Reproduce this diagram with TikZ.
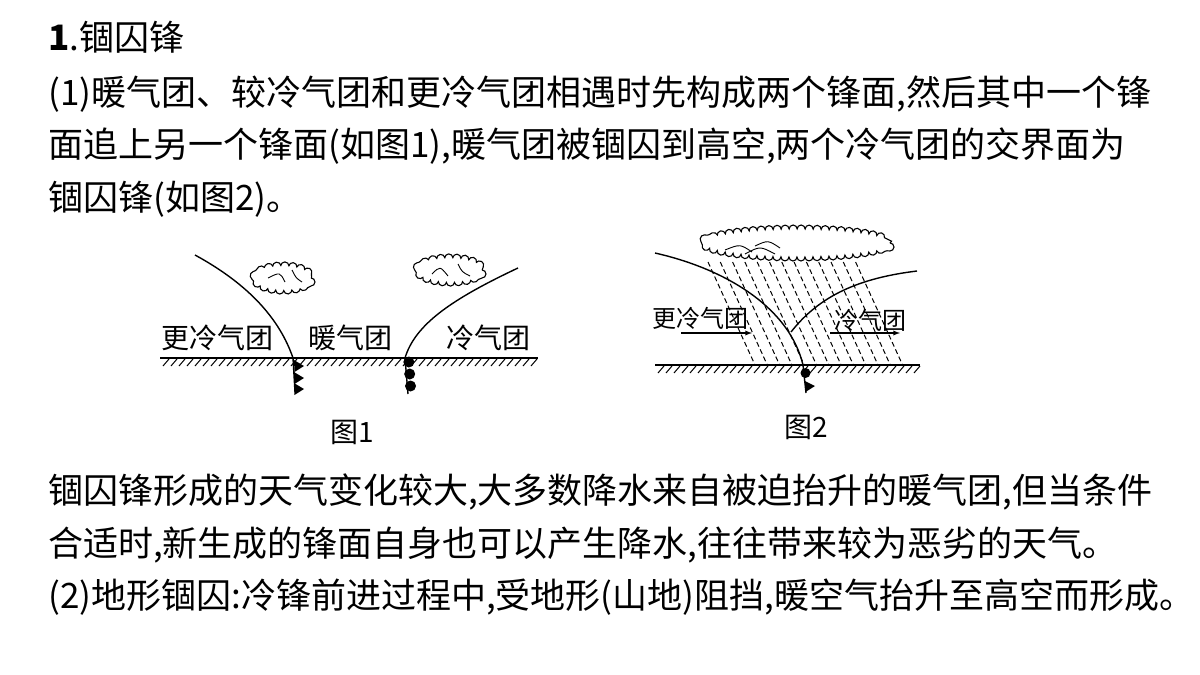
\documentclass[tikz,border=0pt]{standalone}
\usepackage{fontspec}
\setmainfont{Liberation Serif}
\newfontfamily\cjk{Noto Sans CJK SC}
\usetikzlibrary{decorations.pathmorphing}
\begin{document}
\begin{tikzpicture}[x=1pt,y=-1pt,
  para/.style={anchor=base west,inner sep=0pt,font=\cjk\fontsize{35}{40}\selectfont},
  lab/.style={inner sep=0pt,font=\cjk\fontsize{28}{32}\selectfont},
  lab2/.style={inner sep=0pt,font=\cjk\fontsize{24}{28}\selectfont},
  front/.style={line width=1.4pt},
  hatch/.style={line width=1pt},
  cloud/.style={line width=1.1pt,decorate,decoration={bumps,segment length=16pt,amplitude=4pt}},
  rain/.style={line width=1pt,dash pattern=on 5pt off 3pt}]
\useasboundingbox (0,0) rectangle (1200,675);
% text
\node[para] (t0) at (48,50) {\textbf{1}.锢囚锋};
\node[para] (t1) at (48,105) {(1)暖气团、较冷气团和更冷气团相遇时先构成两个锋面,然后其中一个锋};
\node[para] (t2) at (48,157) {面追上另一个锋面(如图1),暖气团被锢囚到高空,两个冷气团的交界面为};
\node[para] (t3) at (48,210) {锢囚锋(如图2)。};
\node[para] (t4) at (48,503) {锢囚锋形成的天气变化较大,大多数降水来自被迫抬升的暖气团,但当条件};
\node[para] (t5) at (48,556) {合适时,新生成的锋面自身也可以产生降水,往往带来较为恶劣的天气。};
\node[para] (t6) at (48,608) {(2)地形锢囚:冷锋前进过程中,受地形(山地)阻挡,暖空气抬升至高空而形成。};
% Figure 1
\draw[line width=1.2pt] (160,358) -- (538,358);
\foreach \x in {163,171,...,535} \draw[hatch] (\x,366) -- (\x+6,359);
\draw[front] (195,255) .. controls (250,285) and (280,320) .. (293,358) -- (295,392);
\foreach \y in {366,378,389} \fill (294,\y-6) -- (304,\y) -- (294.5,\y+6) -- cycle;
\draw[front] (518,268) .. controls (450,300) and (415,325) .. (405,358) -- (408,394);
\foreach \y in {362,374,386} \fill (408.5+0.07*\y-25,\y) circle (5.5);
\draw[cloud,fill=white] (283,278) ellipse (28 and 12);
\draw[line width=0.9pt] (268,278) .. controls (280,272) .. (285,282) (292,270) .. controls (296,278) .. (302,282);
\draw[cloud,fill=white] (450,270) ellipse (32 and 12);
\draw[line width=0.9pt] (432,274) .. controls (440,266) .. (448,276) (458,264) .. controls (462,272) .. (470,276);
\node[lab] (l1) at (217,338) {更冷气团};
\node[lab] (l2) at (350,338) {暖气团};
\node[lab] (l3) at (488,338) {冷气团};
\node[lab] (f1) at (352,432) {图1};
% Figure 2
\foreach \i in {0,...,12} \draw[rain] (708+12.3*\i,262) -- (755+12.3*\i,365);
\draw[cloud,fill=white] (797,243) ellipse (93 and 14);
\draw[line width=0.9pt] (725,250) .. controls (740,244) .. (752,252) (745,254) .. controls (760,246) .. (775,254) (755,246) .. controls (768,240) .. (780,248);
\draw[line width=1.2pt] (655,365) -- (920,365);
\foreach \x in {658,666,...,916} \draw[hatch] (\x,373) -- (\x+6,366);
\draw[front] (655,253) .. controls (730,270) and (790,310) .. (803,365) -- (806,393);
\fill (805.5,373) circle (5);
\fill (805,381) -- (815,386) -- (805.5,392) -- cycle;
\draw[front] (791,332) .. controls (820,295) and (860,278) .. (917,271);
\node[lab2] (m1) at (700,318) {更冷气团};
\node[lab2] (m2) at (870,320) {冷气团};
\coordinate (a1s) at (681,333); \coordinate (a1e) at (752,333);
\coordinate (a2s) at (830,333); \coordinate (a2e) at (900,333);
\draw[line width=1.3pt,-latex] (a1s) -- (a1e);
\draw[line width=1.3pt,-latex] (a2s) -- (a2e);
\node[lab] (f2) at (806,427) {图2};
\end{tikzpicture}
\end{document}
